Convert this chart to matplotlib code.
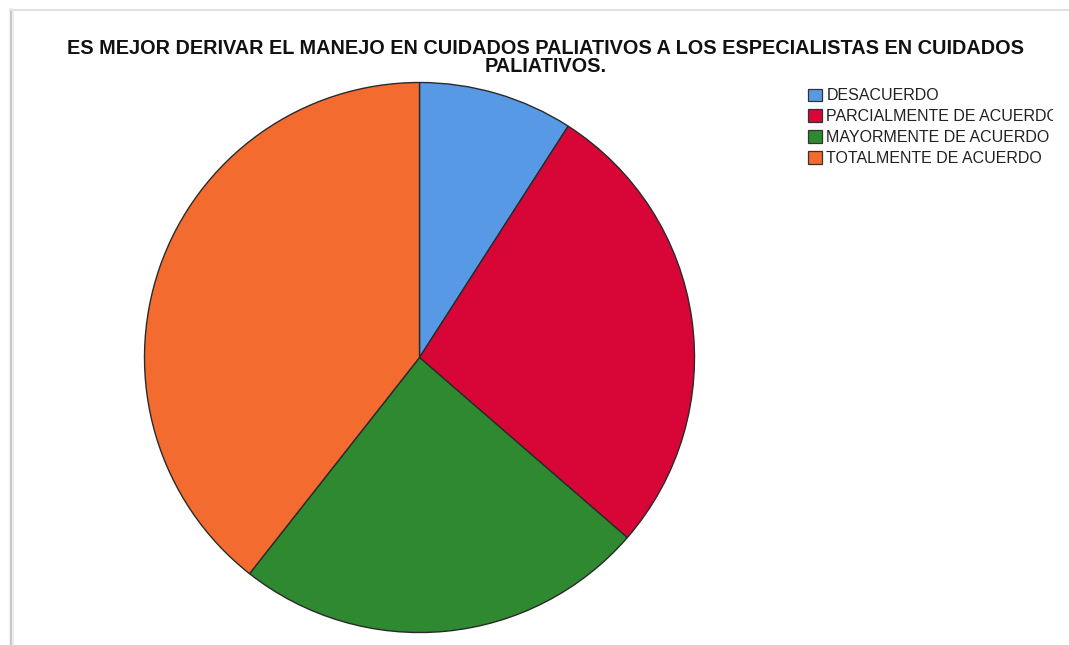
import matplotlib.pyplot as plt
from matplotlib.lines import Line2D
from matplotlib.patches import Patch
from matplotlib.transforms import Bbox

plt.rcParams['font.family'] = ['Liberation Sans', 'DejaVu Sans']

# survey answers
respuestas = ['DESACUERDO', 'PARCIALMENTE DE ACUERDO',
              'MAYORMENTE DE ACUERDO', 'TOTALMENTE DE ACUERDO']
frecuencia = [3, 9, 8, 13]
colores = ['#5899E6', '#D70636', '#2E8930', '#F46B30']

titulo = ('ES MEJOR DERIVAR EL MANEJO EN CUIDADOS PALIATIVOS A LOS ESPECIALISTAS EN CUIDADOS\n'
          'PALIATIVOS.')

W, H = 1069, 645
fig = plt.figure(figsize=(W / 100, H / 100), dpi=100)
fig.patch.set_facecolor('white')

# window frame (left and top edges)
fig.add_artist(Line2D([11 / W, 11 / W], [0, 1 - 10 / H], color='#c8c8c8', lw=2.5))
fig.add_artist(Line2D([13 / W, 13 / W], [0, 1 - 11 / H], color='#ececec', lw=1.5))
fig.add_artist(Line2D([10 / W, 1], [1 - 9.5 / H, 1 - 9.5 / H], color='#e2e2e2', lw=1.5))

fig.text(546 / W, 1 - 57.5 / H, titulo, ha='center', va='center',
         fontsize=14.3, fontweight='bold', linespacing=0.92, color='#111111')

ax = fig.add_axes([144.5 / W, 12.5 / H, 550 / W, 550 / H])
ax.pie(frecuencia, colors=colores, startangle=90, counterclock=False, radius=1,
       wedgeprops=dict(edgecolor='#2a2a2a', linewidth=1.0))
ax.set_xlim(-1, 1)
ax.set_ylim(-1, 1)
ax.set_aspect('equal')
ax.axis('off')

handles = [Patch(facecolor=c, edgecolor='#333333', linewidth=0.9) for c in colores]
leg = fig.legend(handles, respuestas, loc='upper left',
                 bbox_to_anchor=(808 / W, 1 - 88.5 / H), frameon=False,
                 fontsize=11.5, handlelength=0.85, handleheight=0.85,
                 handletextpad=0.3, labelspacing=0.36, borderaxespad=0,
                 borderpad=0, labelcolor='#222222')
# the second label runs past the panel edge
etiqueta = leg.get_texts()[1]
etiqueta.set_clip_on(True)
etiqueta.set_clip_box(Bbox.from_extents(0, 0, 1053, H))

fig.savefig('out.png', dpi=100, facecolor='white')
